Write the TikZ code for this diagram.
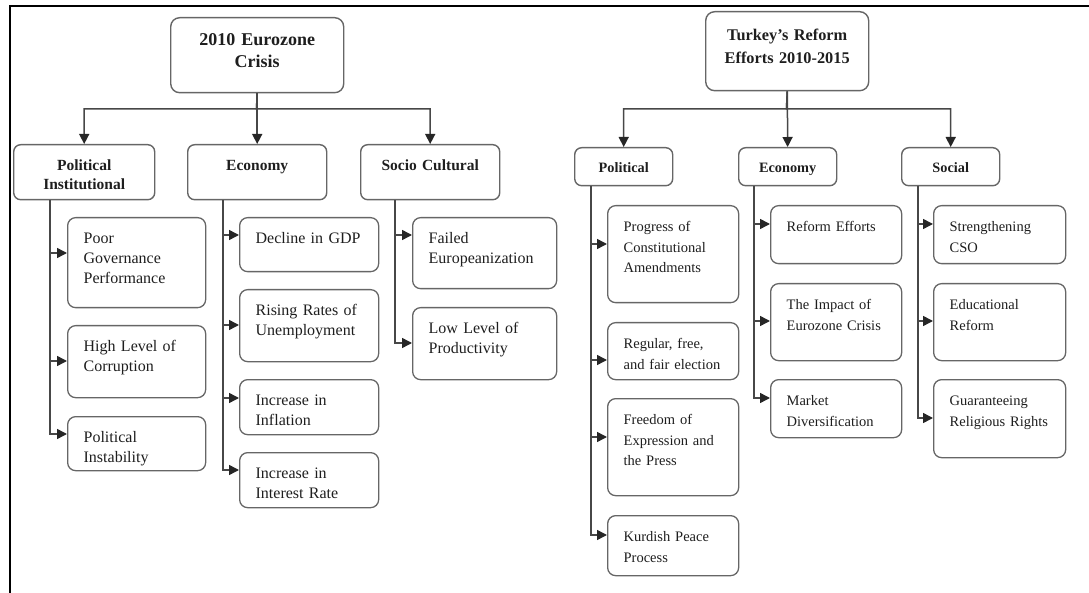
\documentclass[tikz,border=0pt]{standalone}
\usepackage{fontspec}
\setmainfont{Liberation Serif}
\usepackage{tikz}
\usetikzlibrary{arrows.meta}
\definecolor{boxgrey}{HTML}{666666}
\definecolor{linegrey}{HTML}{474747}
\definecolor{inkgrey}{HTML}{1E1E1E}
\tikzset{
    rootbox/.style={rectangle, rounded corners=9pt, draw=boxgrey, line width=1.4pt,
        anchor=north west, inner xsep=0pt, inner ysep=0pt, align=center, text=inkgrey},
    headbox/.style={rectangle, rounded corners=7pt, draw=boxgrey, line width=1.4pt,
        anchor=north west, inner xsep=0pt, inner ysep=0pt, align=center, text=inkgrey},
    leafbox/.style={rectangle, rounded corners=8pt, draw=boxgrey, line width=1.3pt,
        anchor=north west, inner xsep=16pt, inner ysep=0pt, align=left, text=inkgrey,
        text height=26pt},
    lfont/.style={font=\fontsize{16}{20}\selectfont},
    rfont/.style={font=\fontsize{14.5}{20.5}\selectfont},
    flow/.style={-{Triangle[length=10pt,width=10pt,color=black!85]}, line width=1.5pt, draw=linegrey}
}

\begin{document}
\begin{tikzpicture}[x=1pt,y=-1pt]
        \useasboundingbox (0,0) rectangle (1089,593);
        \draw[line width=1.8pt, black] (10,593) -- (10,6) -- (1089,6);
        % Eurozone crisis tree
        \node[rootbox,font=\fontsize{18}{22}\selectfont\bfseries,text width=173pt,text height=28pt,text depth=47pt] at (170,17) (lroot) {2010 Eurozone\\Crisis};
        \node[headbox,font=\fontsize{15.5}{19}\selectfont\bfseries,text width=141pt,text height=26pt,text depth=29pt] at (13,144) (lpol) {Political\\Institutional};
        \node[headbox,font=\fontsize{15.5}{19}\selectfont\bfseries,text width=139pt,text height=26pt,text depth=29pt] at (187,144) (leco) {Economy};
        \node[headbox,font=\fontsize{15.5}{19}\selectfont\bfseries,text width=139pt,text height=26pt,text depth=29pt] at (360,144) (lsoc) {Socio Cultural};
        \node[leafbox,lfont,text width=106pt,text depth=64pt] at (67,217) (pg) {Poor\\Governance\\Performance};
        \node[leafbox,lfont,text width=106pt,text depth=46pt] at (67,325) (hc) {High Level of\\Corruption};
        \node[leafbox,lfont,text width=106pt,text depth=28pt] at (67,416) (pi) {Political\\Instability};
        \node[leafbox,lfont,text width=107pt,text depth=28pt] at (239,217) (gdp) {Decline in GDP};
        \node[leafbox,lfont,text width=107pt,text depth=46pt] at (239,289) (unemp) {Rising Rates of\\Unemployment};
        \node[leafbox,lfont,text width=107pt,text depth=29pt] at (239,379) (infl) {Increase in\\Inflation};
        \node[leafbox,lfont,text width=107pt,text depth=29pt] at (239,452) (intr) {Increase in\\Interest Rate};
        \node[leafbox,lfont,text width=112pt,text depth=45pt] at (412,217) (feu) {Failed\\Europeanization};
        \node[leafbox,lfont,text width=112pt,text depth=46pt] at (412,307) (prod) {Low Level of\\Productivity};
        \coordinate (lbar) at (256.5,109);
        \draw[flow] (lroot) -- (leco);
        \draw[flow] (lroot.south) -- (lbar) -| (lpol.north);
        \draw[flow] (lroot.south) -- (lbar) -| (lsoc.north);
        \coordinate (lpolsp) at ([xshift=37pt]lpol.south west);
        \coordinate (lecosp) at ([xshift=36pt]leco.south west);
        \coordinate (lsocsp) at ([xshift=35pt]lsoc.south west);
        \draw[flow] (lpolsp) |- ([yshift=-36pt]pg.north west);
        \draw[flow] (lpolsp) |- ([yshift=-36pt]hc.north west);
        \draw[flow] (lpolsp) |- ([yshift=-18pt]pi.north west);
        \draw[flow] (lecosp) |- ([yshift=-18pt]gdp.north west);
        \draw[flow] (lecosp) |- ([yshift=-36pt]unemp.north west);
        \draw[flow] (lecosp) |- ([yshift=-19pt]infl.north west);
        \draw[flow] (lecosp) |- ([yshift=-18pt]intr.north west);
        \draw[flow] (lsocsp) |- ([yshift=-18pt]feu.north west);
        \draw[flow] (lsocsp) |- ([yshift=-36pt]prod.north west);
        % Turkey reform tree
        \node[rootbox,font=\fontsize{16.3}{23}\selectfont\bfseries,text width=163pt,text height=29pt,text depth=50pt] at (705,11) (rroot) {Turkey’s Reform\\Efforts 2010-2015};
        \node[headbox,font=\fontsize{14.3}{18}\selectfont\bfseries,text width=98pt,text height=25pt,text depth=13pt] at (574,147) (rpol) {Political};
        \node[headbox,font=\fontsize{14.3}{18}\selectfont\bfseries,text width=98pt,text height=25pt,text depth=13pt] at (738,147) (reco) {Economy};
        \node[headbox,font=\fontsize{14.3}{18}\selectfont\bfseries,text width=98pt,text height=25pt,text depth=13pt] at (901,147) (rsoc) {Social};
        \node[leafbox,rfont,text width=99pt,text depth=71pt] at (607,205) (pca) {Progress of\\Constitutional\\Amendments};
        \node[leafbox,rfont,text width=99pt,text depth=31pt] at (607,322) (rfe) {Regular, free,\\and fair election};
        \node[leafbox,rfont,text width=99pt,text depth=71pt] at (607,398) (fep) {Freedom of\\Expression and\\the Press};
        \node[leafbox,rfont,text width=99pt,text depth=34pt] at (607,515) (kpp) {Kurdish Peace\\Process};
        \node[leafbox,rfont,text width=99pt,text depth=32pt] at (770,205) (ref) {Reform Efforts};
        \node[leafbox,rfont,text width=99pt,text depth=51pt] at (770,283) (imp) {The Impact of\\Eurozone Crisis};
        \node[leafbox,rfont,text width=99pt,text depth=32pt] at (770,379) (mkt) {Market\\Diversification};
        \node[leafbox,rfont,text width=100pt,text depth=32pt] at (933,205) (cso) {Strengthening\\CSO};
        \node[leafbox,rfont,text width=100pt,text depth=51pt] at (933,283) (edu) {Educational\\Reform};
        \node[leafbox,rfont,text width=100pt,text depth=52pt] at (933,379) (grr) {Guaranteeing\\Religious Rights};
        \coordinate (rbar) at (786.5,109);
        \draw[flow] (rroot) -- (reco);
        \draw[flow] (rroot.south) -- (rbar) -| (rpol.north);
        \draw[flow] (rroot.south) -- (rbar) -| (rsoc.north);
        \coordinate (rpolsp) at ([xshift=17pt]rpol.south west);
        \coordinate (recosp) at ([xshift=16pt]reco.south west);
        \coordinate (rsocsp) at ([xshift=17pt]rsoc.south west);
        \draw[flow] (rpolsp) |- ([yshift=-39pt]pca.north west);
        \draw[flow] (rpolsp) |- ([yshift=-38pt]rfe.north west);
        \draw[flow] (rpolsp) |- ([yshift=-39pt]fep.north west);
        \draw[flow] (rpolsp) |- ([yshift=-20pt]kpp.north west);
        \draw[flow] (recosp) |- ([yshift=-19pt]ref.north west);
        \draw[flow] (recosp) |- ([yshift=-38pt]imp.north west);
        \draw[flow] (recosp) |- ([yshift=-19pt]mkt.north west);
        \draw[flow] (rsocsp) |- ([yshift=-19pt]cso.north west);
        \draw[flow] (rsocsp) |- ([yshift=-38pt]edu.north west);
        \draw[flow] (rsocsp) |- ([yshift=-39pt]grr.north west);
    \end{tikzpicture}
\end{document}
